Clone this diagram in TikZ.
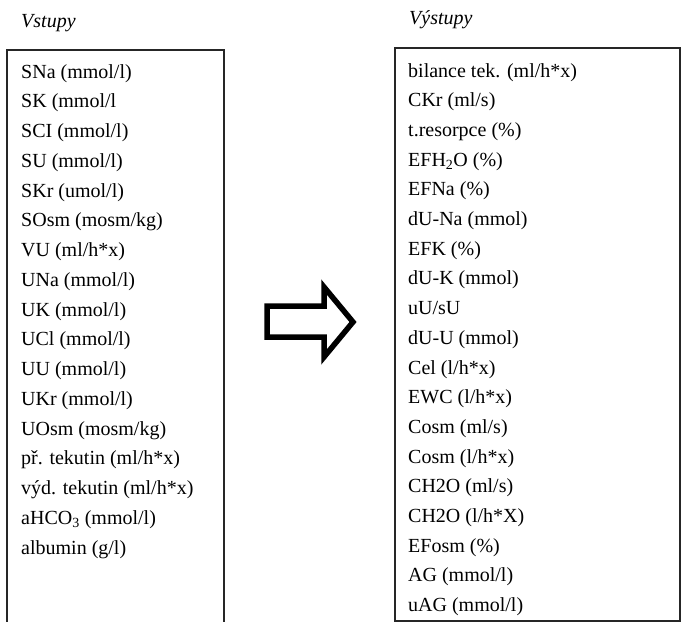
\documentclass[tikz,border=0pt]{standalone}
\usepackage{fontspec}
\setmainfont{Liberation Serif}
\begin{document}
\begin{tikzpicture}[x=1pt,y=-1pt,
  item/.style={anchor=base west,inner sep=0pt,font=\fontsize{20}{24}\selectfont},
  ttl/.style={anchor=base west,inner sep=0pt,font=\fontsize{20}{24}\selectfont\itshape},
  frame/.style={draw=black!85,line width=1.3pt},
  bigarrow/.style={draw=black,line width=5.5pt,line join=miter,fill=white}]
\useasboundingbox (0,0) rectangle (681,622);
\node[ttl] (tin) at (21,27) {Vstupy};
\node[ttl] (tout) at (409,24) {Výstupy};
\draw[frame] (7,623) -- (7,50) -- (224,50) -- (224,623);
\draw[frame] (395,48) rectangle (680,621);
\foreach \t [count=\i from 0] in {
  SNa (mmol/l),SK (mmol/l,SCI (mmol/l),SU (mmol/l),SKr (umol/l),
  SOsm (mosm/kg),VU (ml/h*x),UNa (mmol/l),UK (mmol/l),UCl (mmol/l),
  UU (mmol/l),UKr (mmol/l),UOsm (mosm/kg),př. tekutin (ml/h*x),
  výd. tekutin (ml/h*x),aHCO\textsubscript{3} (mmol/l),albumin (g/l)}
  \node[item] (in\i) at (21,{78+29.75*\i}) {\t};
\foreach \t [count=\i from 0] in {
  bilance tek. (ml/h*x),CKr (ml/s),t.resorpce (\%),EFH\textsubscript{2}O (\%),
  EFNa (\%),dU-Na (mmol),EFK (\%),dU-K (mmol),uU/sU,dU-U (mmol),
  Cel (l/h*x),EWC (l/h*x),Cosm (ml/s),Cosm (l/h*x),CH2O (ml/s),
  CH2O (l/h*X),EFosm (\%),AG (mmol/l),uAG (mmol/l)}
  \node[item] (out\i) at (408,{77+29.7*\i}) {\t};
\draw[bigarrow] (267,306) -- (324,306) -- (324,287) -- (353,322)
  -- (324,357) -- (324,337) -- (267,337) -- cycle;
\end{tikzpicture}
\end{document}
